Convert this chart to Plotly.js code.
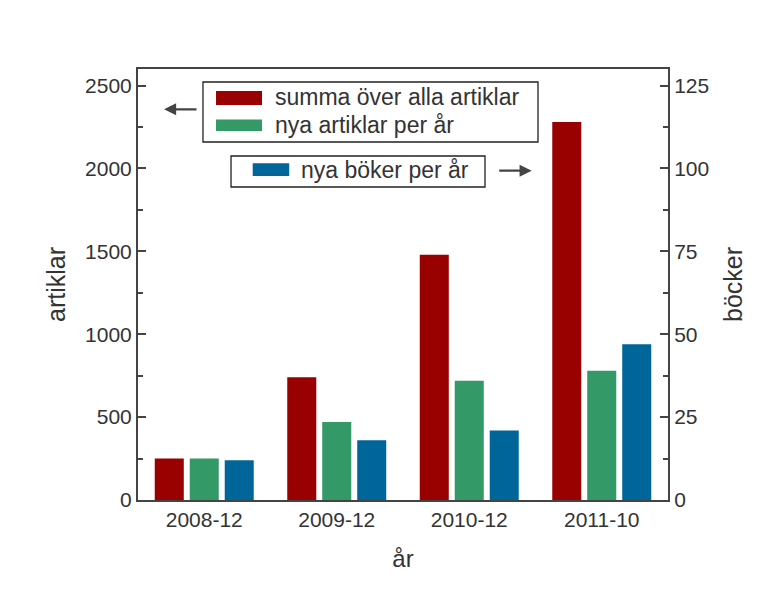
<!DOCTYPE html>
<html>
<head>
<meta charset="utf-8">
<script src="https://cdn.plot.ly/plotly-3.0.1.min.js"></script>
<style>html,body{margin:0;padding:0;background:#fff;}#chart{width:776px;height:600px;}</style>
</head>
<body>
<div id="chart"></div>
<script>
// ---- data ----
const categories = ["2008-12", "2009-12", "2010-12", "2011-10"];
const summaArtiklar = [250, 740, 1480, 2280];   // left axis
const nyaArtiklar = [250, 470, 720, 780];       // left axis
const nyaBoker = [12, 18, 21, 47];              // right axis
const seriesNames = ["summa över alla artiklar", "nya artiklar per år", "nya böker per år"];
const seriesColors = ["#990000", "#339966", "#006699"];
const leftTicks = [0, 500, 1000, 1500, 2000, 2500];
const rightTicks = [0, 25, 50, 75, 100, 125];

const FONT = "Liberation Sans, Arial, sans-serif";
const TXT = "#333333";
const AX = "#444444";

const barW = 0.219;
const slot = 0.264;

const traces = [
  {type: "bar", x: categories, y: summaArtiklar, name: seriesNames[0], yaxis: "y",
   marker: {color: seriesColors[0]}, width: barW, offset: -slot - barW / 2, showlegend: false, hoverinfo: "y"},
  {type: "bar", x: categories, y: nyaArtiklar, name: seriesNames[1], yaxis: "y",
   marker: {color: seriesColors[1]}, width: barW, offset: -barW / 2, showlegend: false, hoverinfo: "y"},
  {type: "bar", x: categories, y: nyaBoker, name: seriesNames[2], yaxis: "y2",
   marker: {color: seriesColors[2]}, width: barW, offset: slot - barW / 2, showlegend: false, hoverinfo: "y"}
];

// manual legend boxes (paper coords)
const shapes = [
  {type: "rect", xref: "paper", yref: "paper", x0: 0.1226, x1: 0.7547, y0: 0.8306, y1: 0.9698,
   line: {color: "#222", width: 1.3}, fillcolor: "#fff", layer: "above"},
  {type: "rect", xref: "paper", yref: "paper", x0: 0.1472, x1: 0.2340, y0: 0.9165, y1: 0.949,
   line: {width: 0}, fillcolor: seriesColors[0], layer: "above"},
  {type: "rect", xref: "paper", yref: "paper", x0: 0.1472, x1: 0.2340, y0: 0.8561, y1: 0.8828,
   line: {width: 0}, fillcolor: seriesColors[1], layer: "above"},
  {type: "rect", xref: "paper", yref: "paper", x0: 0.1755, x1: 0.6547, y0: 0.7262, y1: 0.7981,
   line: {color: "#222", width: 1.3}, fillcolor: "#fff", layer: "above"},
  {type: "rect", xref: "paper", yref: "paper", x0: 0.2164, x1: 0.2853, y0: 0.7517, y1: 0.7812,
   line: {width: 0}, fillcolor: seriesColors[2], layer: "above"}
];

const legFont = {family: FONT, size: 23, color: TXT};
const annotations = [
  {xref: "paper", yref: "paper", x: 0.2547, y: 0.9339, xanchor: "left", yanchor: "middle",
   text: seriesNames[0], showarrow: false, font: legFont},
  {xref: "paper", yref: "paper", x: 0.2547, y: 0.8701, xanchor: "left", yanchor: "middle",
   text: seriesNames[1], showarrow: false, font: legFont},
  {xref: "paper", yref: "paper", x: 0.3038, y: 0.7657, xanchor: "left", yanchor: "middle",
   text: seriesNames[2], showarrow: false, font: legFont},
  {xref: "paper", yref: "paper", x: 0.0491, y: 0.9065, ax: 34, ay: 0, text: "", showarrow: true,
   arrowhead: 2, arrowsize: 1.1, arrowwidth: 2.2, arrowcolor: AX},
  {xref: "paper", yref: "paper", x: 0.7428, y: 0.764, ax: -34, ay: 0, text: "", showarrow: true,
   arrowhead: 2, arrowsize: 1.1, arrowwidth: 2.2, arrowcolor: AX}
];

const layout = {
  width: 776, height: 600,
  margin: {l: 138, r: 108, t: 69, b: 100},
  paper_bgcolor: "#fff", plot_bgcolor: "#fff",
  barmode: "overlay",
  showlegend: false,
  font: {family: FONT, size: 21, color: TXT},
  xaxis: {
    type: "category", range: [-0.5, 3.5],
    showline: true, linecolor: AX, linewidth: 2, mirror: true,
    ticks: "", showgrid: false, zeroline: false,
    tickfont: {family: FONT, size: 21, color: TXT},
    title: {text: "år", font: {family: FONT, size: 24, color: TXT}, standoff: 20}
  },
  yaxis: {
    range: [0, 2600], tickvals: leftTicks, ticktext: leftTicks.map(String),
    showline: true, linecolor: AX, linewidth: 2,
    ticks: "inside", ticklen: 8, tickwidth: 2, tickcolor: AX,
    minor: {ticks: "inside", dtick: 250, ticklen: 5, tickwidth: 2, tickcolor: AX, showgrid: false},
    showgrid: false, zeroline: false,
    tickfont: {family: FONT, size: 21, color: TXT},
    title: {text: "artiklar", font: {family: FONT, size: 25, color: TXT}, standoff: 12}
  },
  yaxis2: {
    overlaying: "y", side: "right",
    range: [0, 130], tickvals: rightTicks, ticktext: rightTicks.map(String),
    showline: true, linecolor: AX, linewidth: 2,
    ticks: "inside", ticklen: 8, tickwidth: 2, tickcolor: AX,
    minor: {ticks: "inside", dtick: 12.5, ticklen: 5, tickwidth: 2, tickcolor: AX, showgrid: false},
    showgrid: false, zeroline: false,
    tickfont: {family: FONT, size: 21, color: TXT},
    title: {text: "böcker", font: {family: FONT, size: 25, color: TXT}, standoff: 16}
  },
  shapes: shapes,
  annotations: annotations
};

Plotly.newPlot("chart", traces, layout, {displayModeBar: false, staticPlot: true});
</script>
</body>
</html>
